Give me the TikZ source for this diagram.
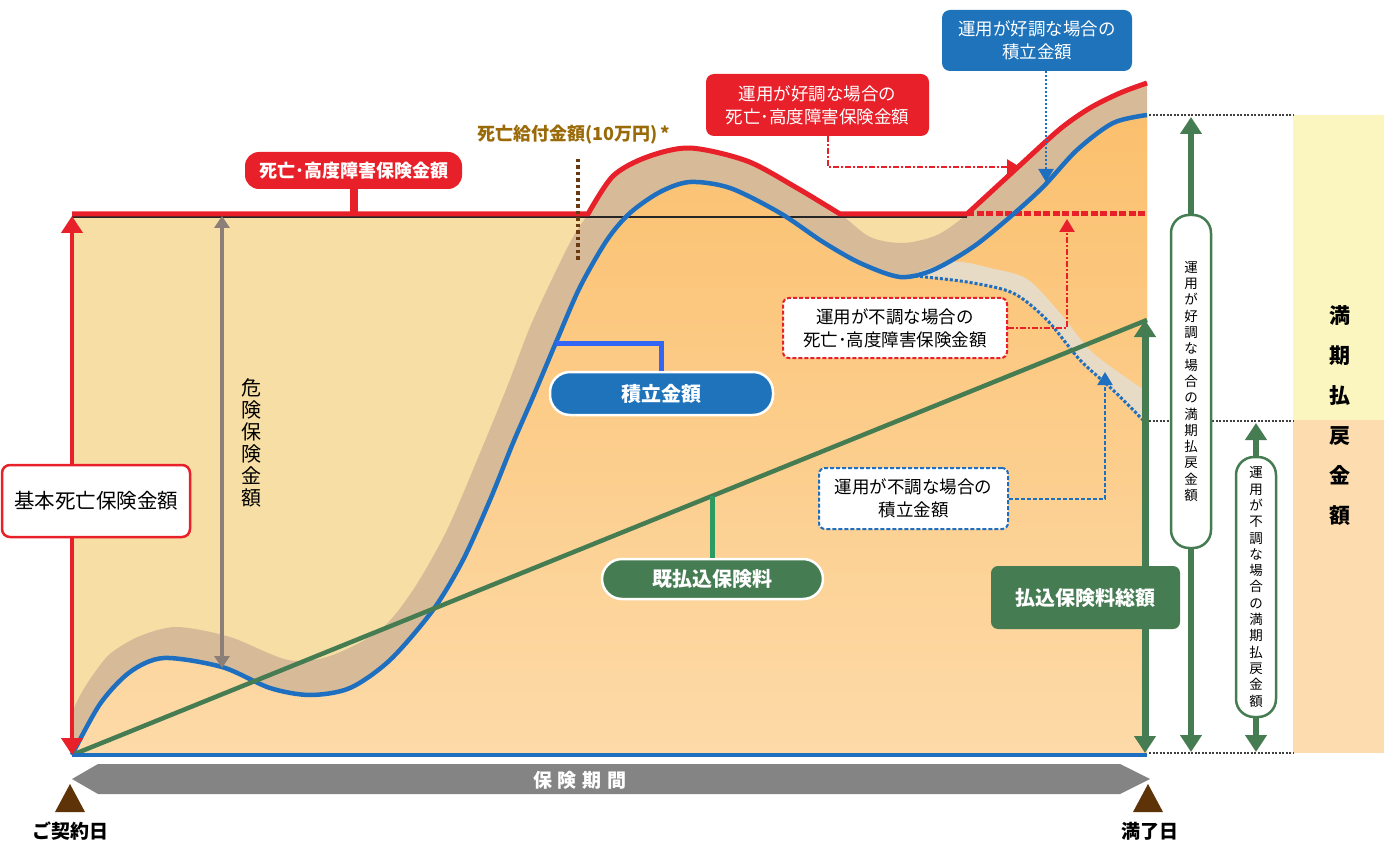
\documentclass[tikz,border=0pt]{standalone}
\usepackage{fontspec}
\setmainfont{Noto Sans CJK JP}
\usetikzlibrary{arrows.meta,shapes}

\definecolor{cred}{HTML}{E8202A}
\definecolor{cblue}{HTML}{1E6FC0}
\definecolor{cbluebox}{HTML}{1E73BA}
\definecolor{clink}{HTML}{3366F5}
\definecolor{cgreen}{HTML}{457C52}
\definecolor{cgreenlink}{HTML}{2E9A62}
\definecolor{ctan}{HTML}{D7BB98}
\definecolor{clight}{HTML}{E8DBC6}
\definecolor{cyellow}{HTML}{F6DEA4}
\definecolor{corange}{HTML}{FBC06E}
\definecolor{corangelow}{HTML}{FDDAA8}
\definecolor{cgray}{HTML}{8C7F78}
\definecolor{cbar}{HTML}{848484}
\definecolor{cbrown}{HTML}{5E3308}
\definecolor{cdot}{HTML}{6A3A12}
\definecolor{cgold}{HTML}{9A6A08}
\definecolor{cpaleyellow}{HTML}{FBF6BF}
\definecolor{cpeach}{HTML}{FDDDB0}

\newcommand\fsz[2]{\fontsize{#1}{#2}\selectfont}
\def\bluepts{(72,755) (100,704) (130,672) (164,658) (222,667) (270,688) (310,695) (350,688) (390,660) (433,610) (463,560) (490,500) (513,443) (533,397) (557,340) (580,287) (607,240) (630,213) (660,192) (690,182) (730,188) (780,213) (823,242) (860,263) (900,277) (933,270) (973,247) (1010,217) (1043,187) (1077,150) (1113,123) (1147,115)}

\begin{document}
\begin{tikzpicture}[x=1pt,y=-1pt,
  pill/.style={draw=white, line width=2.5pt, rounded corners=20pt, text=white, inner sep=0pt, font=\fsz{20}{24}\bfseries},
  tagbox/.style={rounded corners=8pt, text=white, inner sep=0pt, align=center, font=\fsz{17.5}{23}},
  dashbox/.style={fill=white, line width=2pt, dash pattern=on 4pt off 2pt, rounded corners=6pt, inner sep=0pt, align=center, font=\fsz{17.5}{23}},
  vbox/.style={draw=cgreen, fill=white, line width=2.5pt, rounded corners=18pt, minimum width=40pt, inner sep=0pt, align=center, font=\fsz{13.5}{16.3}},
  dashlink/.style={cred, line width=2.5pt, dash pattern=on 6pt off 2pt on 2pt off 2pt, -{Triangle[length=13pt,width=15pt]}},
  dotlink/.style={cblue, line width=2pt, dash pattern=on 2pt off 2pt, -{Triangle[length=13pt,width=15pt]}},
  bigarrow/.style={line width=#1, {Triangle[length=17pt,width=21pt]}-{Triangle[length=17pt,width=21pt]}}]
\useasboundingbox (0,0) rectangle (1384,842);

% chart area
\fill[cyellow] (72,214) rectangle (1147,755);
\fill[ctan] plot[smooth] coordinates {(72,712) (82,692) (95,672) (111,653) (140,636) (177,627) (230,637) (288,660) (330,656) (380,630) (413,590) (447,530) (480,453) (507,387) (530,327) (553,277) (573,237) (588,214) (613,176) (647,157) (690,148) (747,161) (797,188) (840,214) (870,237) (903,243) (937,235) (967,214) (1017,168) (1060,129) (1090,108) (1120,93) (1147,83)} -- (1147,755) -- (72,755) -- cycle;
\shade[top color=corange, middle color=corange, bottom color=corangelow] plot[smooth] coordinates {\bluepts} -- (1147,755) -- cycle;
\fill[clight] plot[smooth] coordinates {(905,277) (953,262) (990,268) (1027,279) (1060,313) (1093,353) (1147,392)} -- (1147,425) -- plot[smooth] coordinates {(1145,422) (1113,390) (1080,360) (1047,320) (1013,293) (967,282) (915,276)} -- cycle;

% lines
\draw[black!85, line width=1.5pt] (72,217) -- (967,217);
\draw[cred, line width=5pt] (72,214) -- (588,214) -- plot[smooth] coordinates {(588,214) (613,176) (647,157) (690,148) (747,161) (797,188) (840,214)} -- (967,214) -- plot[smooth] coordinates {(967,214) (1017,168) (1060,129) (1090,108) (1120,93) (1147,83)};
\draw[cred, line width=5pt, dash pattern=on 7pt off 2.5pt] (967,214) -- (1147,214);
\draw[cblue, line width=4.5pt] plot[smooth] coordinates {\bluepts};
\draw[cblue, line width=3pt, dash pattern=on 3pt off 2pt] plot[smooth] coordinates {(915,276) (967,282) (1013,293) (1047,320) (1080,360) (1113,390) (1145,422)};
\draw[cgreen, line width=4.5pt] (72,755) -- (1147,320);
\draw[cblue, line width=4pt] (72,755) -- (1147,755);

\coordinate (toprow) at (0,214);
\coordinate (origin) at (72,755);
\draw[cred, bigarrow=4pt] (72,216) -- (origin);
\draw[cgray, line width=3.5pt, {Triangle[length=12pt,width=15pt]}-{Triangle[length=12pt,width=15pt]}] (222,216) -- (222,668);
\draw[cgreen, bigarrow=7pt] (1145,320) -- (1145,753);

% labels on the chart
\node[draw=cred, fill=white, line width=2.5pt, rounded corners=8pt, minimum width=188pt, minimum height=72pt, inner sep=0pt, font=\fsz{20.5}{24}] (basebox) at (96,501) {基本死亡保険金額};
\node[inner sep=0pt, align=center, font=\fsz{20}{22}] (risk) at (251,443) {危\\険\\保\\険\\金\\額};

\node[fill=cred, rounded corners=14pt, minimum width=217pt, minimum height=37pt, inner sep=0pt, text=white, font=\fsz{18}{20}\bfseries] (deathbox) at (353.5,170.5) {死亡･高度障害保険金額};
\draw[cred, line width=8pt] (deathbox.south) -- (deathbox.south |- toprow);

\node[text=cgold, inner sep=0pt, font=\fsz{18}{20}\bfseries] (benefit) at (574,135) {死亡給付金額(10万円)\,*};
\coordinate (benefittop) at (578,159);
\coordinate (benefitbot) at (578,261);
\draw[cdot, line width=3.5pt, dash pattern=on 3.5pt off 3pt] (benefittop) -- (benefitbot);

\node[pill, fill=cbluebox, minimum width=223pt, minimum height=43pt] (accbox) at (661.5,393.5) {積立金額};
\coordinate (accpt) at (556,343);
\draw[clink, line width=5pt] (accpt) -| (accbox.north);

\node[pill, fill=cgreen, minimum width=221pt, minimum height=40pt] (paidbox) at (712.5,579) {既払込保険料};
\coordinate (paidpt) at (712.5,496);
\draw[cgreenlink, line width=5pt] (paidpt) -- (paidbox.north);

\node[fill=cgreen, rounded corners=7pt, minimum width=189pt, minimum height=63pt, inner sep=0pt, text=white, font=\fsz{20}{24}\bfseries] (totalbox) at (1085.5,597.5) {払込保険料総額};

\node[tagbox, fill=cred, minimum width=223pt, minimum height=62pt] (goodred) at (817.5,105) {運用が好調な場合の\\死亡･高度障害保険金額};
\coordinate (goodredtip) at (1020,167);
\draw[dashlink] ([xshift=10.5pt]goodred.south) |- (goodredtip);

\node[tagbox, fill=cbluebox, minimum width=190pt, minimum height=61pt] (goodblue) at (1037,40.5) {運用が好調な場合の\\積立金額};
\coordinate (goodbluetip) at (1046,182);
\draw[dotlink] ([xshift=9pt]goodblue.south) -- (goodbluetip);

\node[dashbox, draw=cred, minimum width=224pt, minimum height=60pt] (poorred) at (895,328) {運用が不調な場合の\\死亡･高度障害保険金額};
\coordinate (poorredtip) at (1067,219);
\draw[dashlink] (poorred.east) -| (poorredtip);

\node[dashbox, draw=cblue, minimum width=189pt, minimum height=61pt] (poorblue) at (913.5,498.5) {運用が不調な場合の\\積立金額};
\coordinate (poorbluetip) at (1105,372);
\draw[dotlink, dash pattern=on 4pt off 2pt] (poorblue.east) -| (poorbluetip);

% right side
\fill[cpaleyellow] (1293,115) rectangle (1384,420);
\fill[cpeach] (1293,420) rectangle (1384,753);
\draw[black!75, line width=2pt, dash pattern=on 2pt off 1.5pt] (1149,115) -- (1293,115);
\draw[black!75, line width=2pt, dash pattern=on 2pt off 1.5pt] (1149,421) -- (1293,421);
\draw[black!75, line width=2pt, dash pattern=on 2pt off 1.5pt] (1149,753) -- (1293,753);

\draw[cgreen, bigarrow=6pt] (1191,117) -- (1191,752);
\node[vbox, minimum height=333pt] (goodmat) at (1191,381.5) {運\\用\\が\\好\\調\\な\\場\\合\\の\\満\\期\\払\\戻\\金\\額};
\draw[cgreen, bigarrow=6pt] (1256,423) -- (1256,752);
\node[vbox, minimum height=260pt] (poormat) at (1256,587) {運\\用\\が\\不\\調\\な\\場\\合\\の\\満\\期\\払\\戻\\金\\額};
\node[inner sep=0pt, align=center, font=\fsz{21}{40}\bfseries] (maturity) at (1340,415.5) {満\\期\\払\\戻\\金\\額};

% period bar
\fill[cbar] (72,779) -- (98,764) -- (1120,764) -- (1150,779) -- (1120,794) -- (98,794) -- cycle;
\node[text=white, inner sep=0pt, font=\fsz{19}{22}\bfseries] (period) at (580,780) {保\hspace{6pt}険\hspace{6pt}期\hspace{6pt}間};
\fill[cbrown] (70,784) -- (85,812) -- (55,812) -- cycle;
\fill[cbrown] (1148,784) -- (1163,812) -- (1133,812) -- cycle;
\node[inner sep=0pt, font=\fsz{19}{22}\bfseries] (start) at (70,831) {ご契約日};
\node[inner sep=0pt, font=\fsz{19}{22}\bfseries] (end) at (1150,831) {満了日};
\end{tikzpicture}
\end{document}
